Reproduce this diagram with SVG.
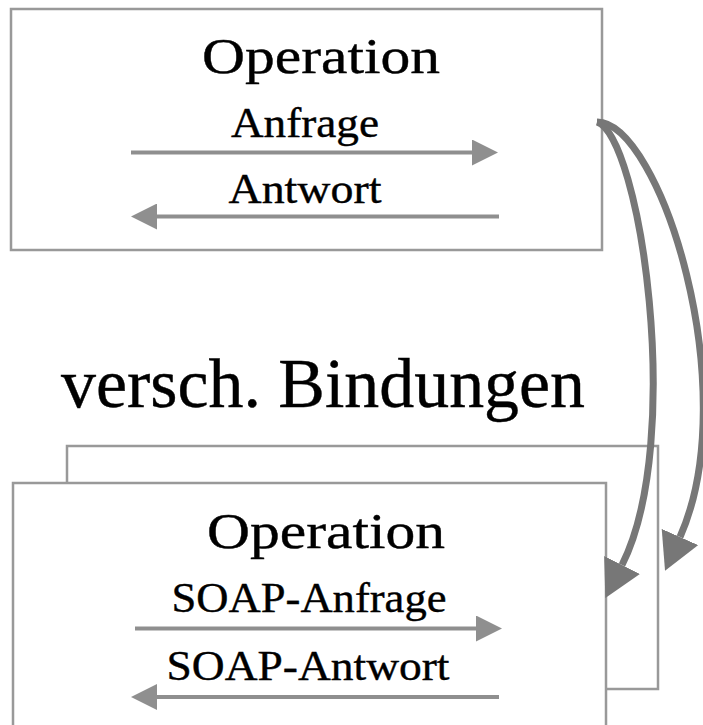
<svg xmlns="http://www.w3.org/2000/svg" width="703" height="725" viewBox="0 0 703 725">
  <style>
    .box { fill: #ffffff; stroke: #999999; stroke-width: 2.5; }
    .lbl { font-family: "Liberation Serif", "Times New Roman", serif; fill: #000000; stroke: #000000; stroke-width: 0.4; text-anchor: middle; }
    .msg { stroke: #8f8f8f; stroke-width: 4; fill: none; marker-end: url(#msgHead); }
    .bind { stroke: #777777; stroke-width: 7; fill: none; marker-end: url(#bindHead); }
  </style>
  <defs>
    <marker id="msgHead" markerUnits="userSpaceOnUse" markerWidth="26" markerHeight="26" viewBox="0 0 26 26" refX="0" refY="13" orient="auto">
      <path d="M0,0 L26,13 L0,26 z" fill="#8f8f8f"/>
    </marker>
    <marker id="bindHead" markerUnits="userSpaceOnUse" markerWidth="37" markerHeight="40" viewBox="0 0 37 40" refX="0" refY="20" orient="auto">
      <path d="M0,0 L37,20 L0,40 z" fill="#777777"/>
    </marker>
  </defs>

  <!-- abstract operation -->
  <g id="abstract-operation">
    <rect class="box" x="11" y="9" width="591" height="241"/>
    <text class="lbl" x="321" y="73" font-size="51" textLength="238" lengthAdjust="spacingAndGlyphs">Operation</text>
    <text class="lbl" x="305" y="137" font-size="43" textLength="148" lengthAdjust="spacingAndGlyphs">Anfrage</text>
    <path class="msg" d="M131,152.5 L472,152.5"/>
    <text class="lbl" x="305" y="203" font-size="43" textLength="153" lengthAdjust="spacingAndGlyphs">Antwort</text>
    <path class="msg" d="M499,216.5 L157,216.5"/>
  </g>

  <!-- heading between the two levels -->
  <g id="bindings-label">
    <text class="lbl" x="323" y="407" font-size="69" textLength="524" lengthAdjust="spacingAndGlyphs">versch. Bindungen</text>
  </g>

  <!-- stacked concrete bindings -->
  <g id="binding-back">
    <rect class="box" x="67" y="446" width="591" height="243"/>
  </g>
  <g id="binding-front">
    <rect class="box" x="13" y="483" width="593" height="260"/>
    <text class="lbl" x="326" y="548" font-size="51" textLength="238" lengthAdjust="spacingAndGlyphs">Operation</text>
    <text class="lbl" x="309" y="612" font-size="43" textLength="275" lengthAdjust="spacingAndGlyphs">SOAP-Anfrage</text>
    <path class="msg" d="M135,628.5 L476,628.5"/>
    <text class="lbl" x="308" y="680" font-size="43" textLength="283" lengthAdjust="spacingAndGlyphs">SOAP-Antwort</text>
    <path class="msg" d="M499,697 L157,697"/>
  </g>

  <!-- mapping from the abstract operation to each binding -->
  <g id="connectors">
    <path class="bind" d="M597,122 C640,135 685,440 622,565"/>
    <path class="bind" d="M597,122 C660,122 745,390 680,537"/>
  </g>
</svg>
